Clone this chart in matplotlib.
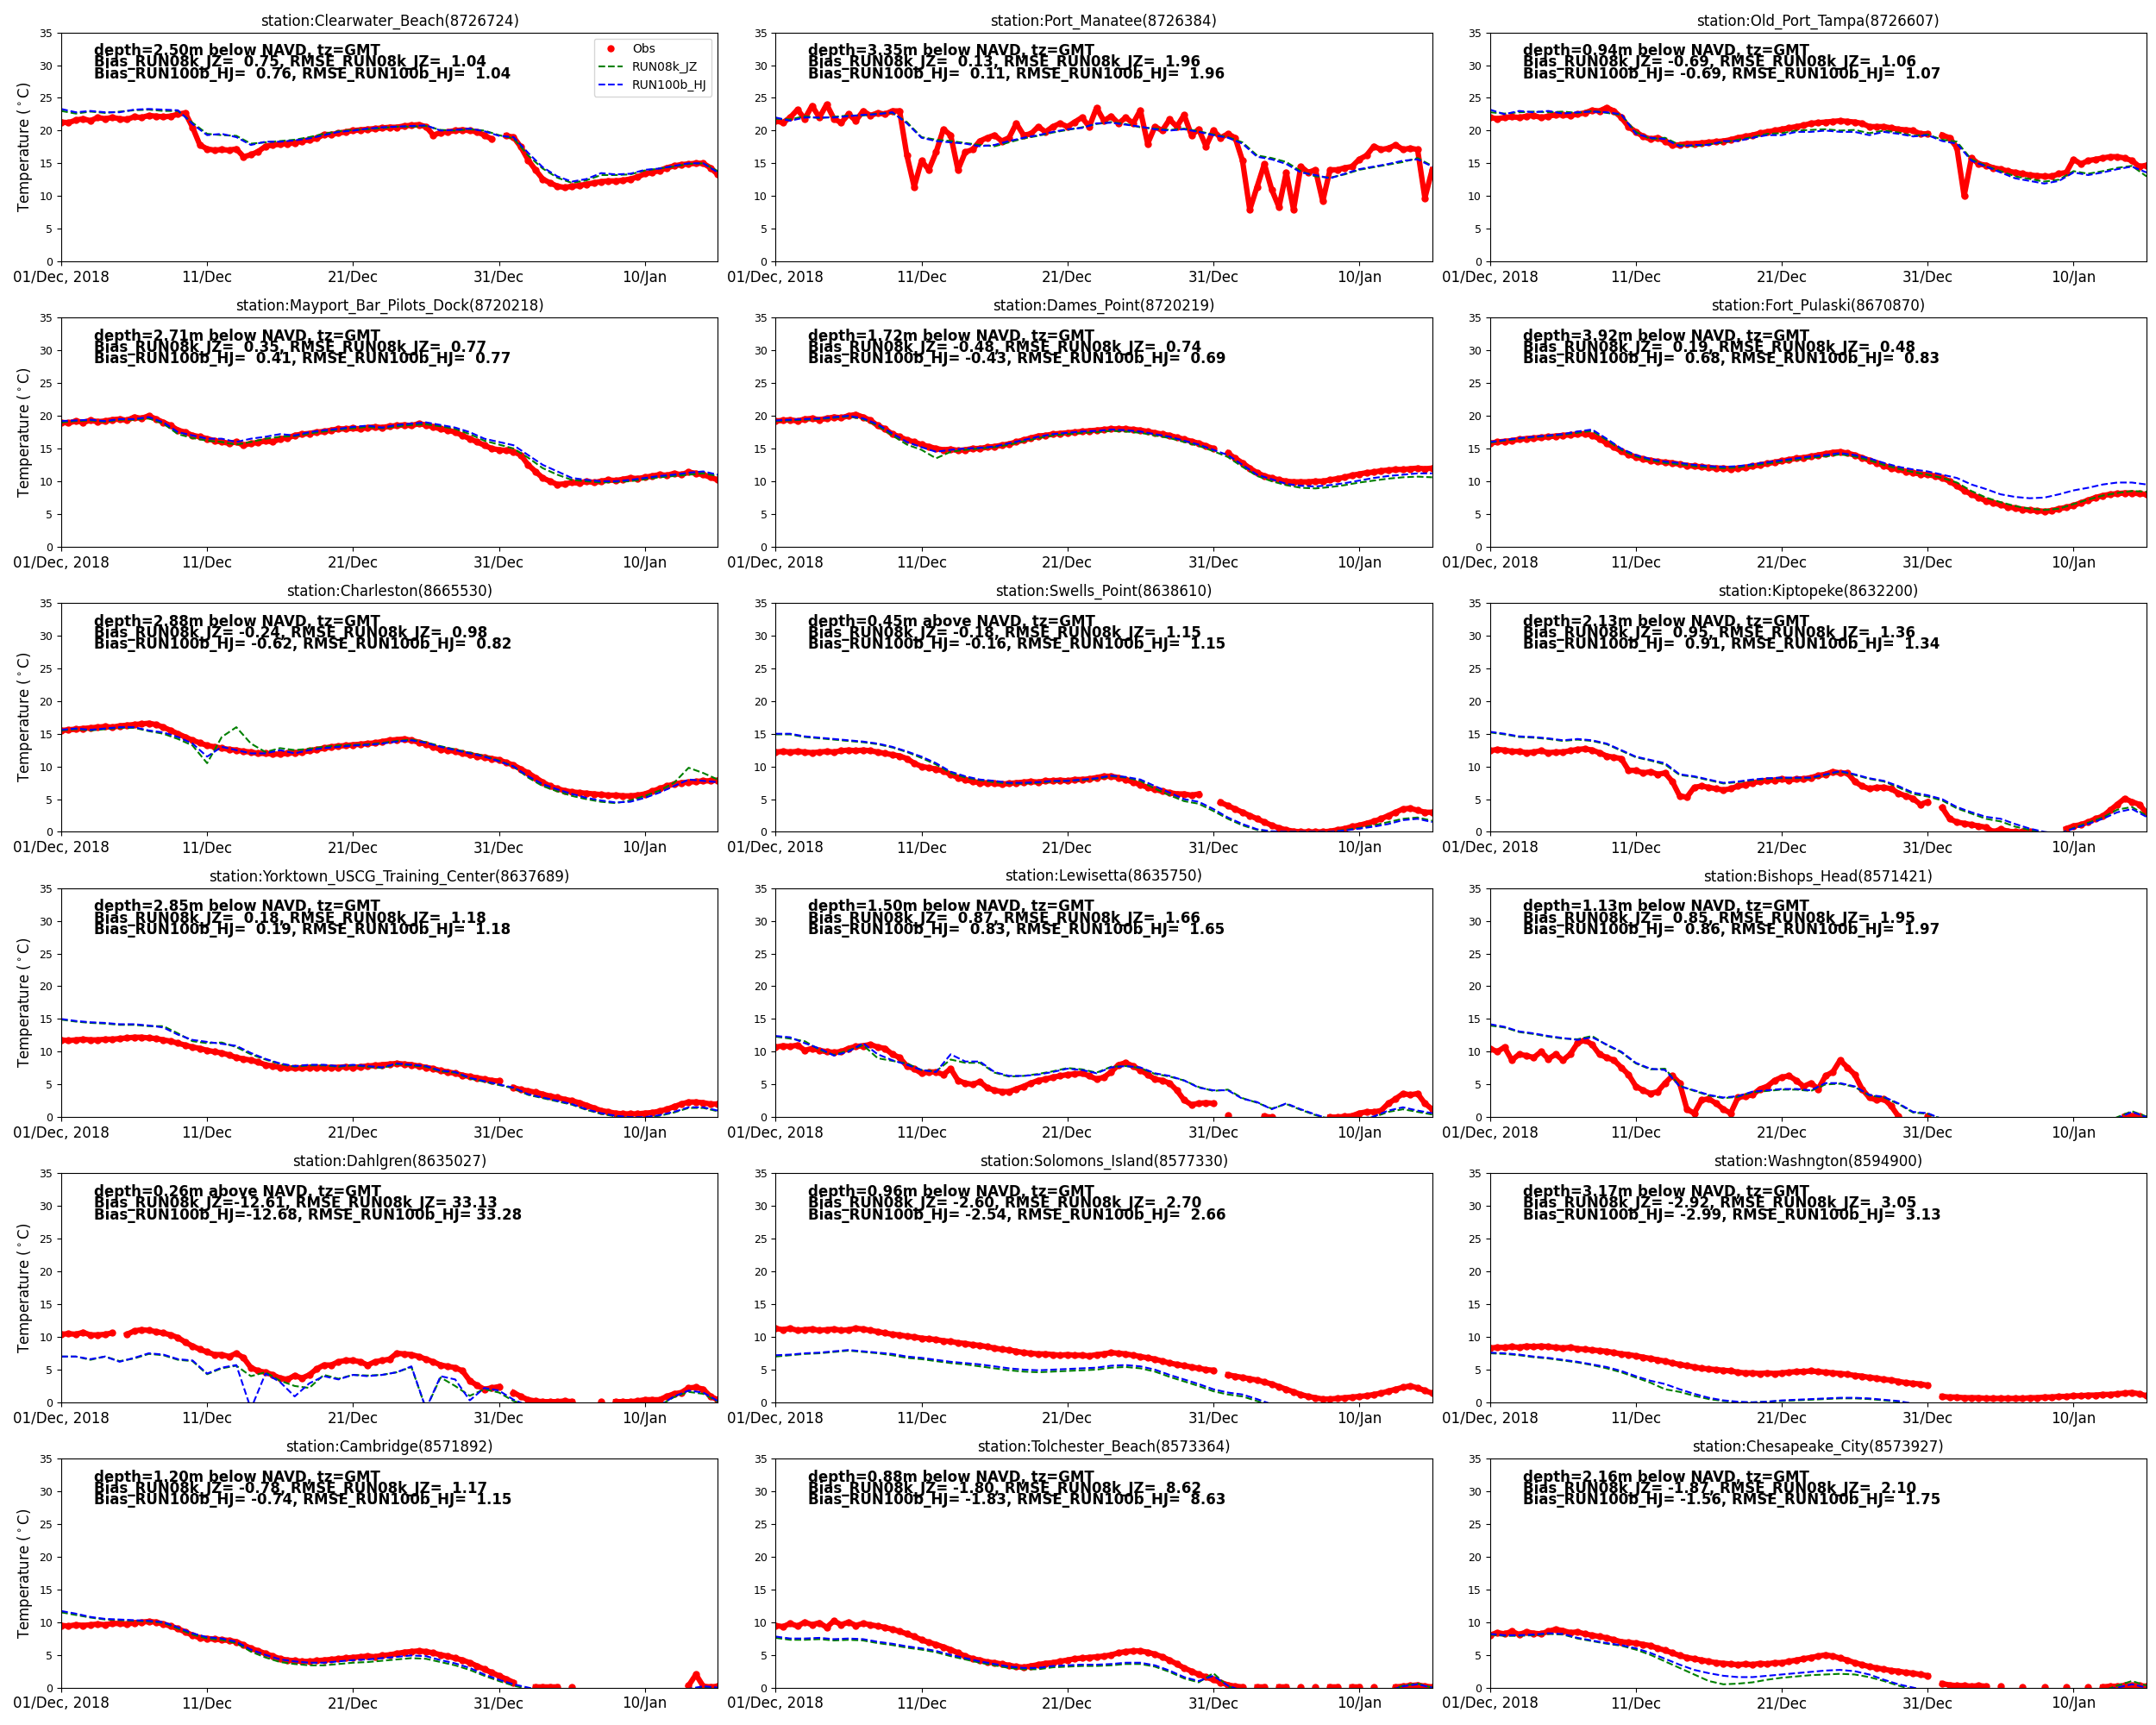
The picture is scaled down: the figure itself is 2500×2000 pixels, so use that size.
import numpy as np
import matplotlib
matplotlib.use('Agg')
import matplotlib.pyplot as plt

# ---------------- time axes ----------------
start = np.datetime64('2018-12-01T00:00')
obs_time = start + np.arange(91) * np.timedelta64(12, 'h')   # 12-hourly obs
mod_time = start + np.arange(46) * np.timedelta64(24, 'h')   # daily model
x_end = np.datetime64('2019-01-15T00:00')
tick_dates = np.array(['2018-12-01', '2018-12-11', '2018-12-21', '2018-12-31', '2019-01-10'], dtype='datetime64[m]')
tick_labels = ['01/Dec, 2018', '11/Dec', '21/Dec', '31/Dec', '10/Jan']
y_ticks = [0, 5, 10, 15, 20, 25, 30, 35]
nan = np.nan

# ---------------- station metadata ----------------
stations = ['Clearwater_Beach', 'Port_Manatee', 'Old_Port_Tampa',
            'Mayport_Bar_Pilots_Dock', 'Dames_Point', 'Fort_Pulaski',
            'Charleston', 'Swells_Point', 'Kiptopeke',
            'Yorktown_USCG_Training_Center', 'Lewisetta', 'Bishops_Head',
            'Dahlgren', 'Solomons_Island', 'Washngton',
            'Cambridge', 'Tolchester_Beach', 'Chesapeake_City']
station_ids = ['8726724', '8726384', '8726607', '8720218', '8720219', '8670870',
               '8665530', '8638610', '8632200', '8637689', '8635750', '8571421',
               '8635027', '8577330', '8594900', '8571892', '8573364', '8573927']
depths = [2.50, 3.35, 0.94, 2.71, 1.72, 3.92, 2.88, 0.45, 2.13,
          2.85, 1.50, 1.13, 0.26, 0.96, 3.17, 1.20, 0.88, 2.16]
depth_ref = ['below', 'below', 'below', 'below', 'below', 'below', 'below', 'above', 'below',
             'below', 'below', 'below', 'above', 'below', 'below', 'below', 'below', 'below']
bias_jz = [0.75, 0.13, -0.69, 0.35, -0.48, 0.19, -0.24, -0.18, 0.95,
           0.18, 0.87, 0.85, -12.61, -2.60, -2.92, -0.78, -1.80, -1.87]
rmse_jz = [1.04, 1.96, 1.06, 0.77, 0.74, 0.48, 0.98, 1.15, 1.36,
           1.18, 1.66, 1.95, 33.13, 2.70, 3.05, 1.17, 8.62, 2.10]
bias_hj = [0.76, 0.11, -0.69, 0.41, -0.43, 0.68, -0.62, -0.16, 0.91,
           0.19, 0.83, 0.86, -12.68, -2.54, -2.99, -0.74, -1.83, -1.56]
rmse_hj = [1.04, 1.96, 1.07, 0.77, 0.69, 0.83, 0.82, 1.15, 1.34,
           1.18, 1.65, 1.97, 33.28, 2.66, 3.13, 1.15, 8.63, 1.75]

# ---------------- observations (12-hourly) ----------------
obs_clearwater = [21.3, 21.2, 21.6, 21.8, 21.5, 22.0, 21.8, 22.0, 21.8, 21.7,
                  22.1, 22.0, 22.3, 22.2, 22.1, 22.2, 22.5, 22.7, 20.5, 17.8,
                  17.2, 17.0, 17.1, 17.0, 17.2, 16.0, 16.3, 16.8, 17.6, 17.8,
                  17.9, 18.0, 18.1, 18.4, 18.6, 18.8, 19.4, 19.4, 19.6, 19.8,
                  20.0, 20.1, 20.2, 20.3, 20.4, 20.5, 20.5, 20.7, 20.8, 20.9,
                  20.6, 19.3, 19.7, 19.8, 20.0, 20.1, 20.0, 19.8, 19.3, 18.7,
                  nan, 19.2, 19.0, 17.5, 15.5, 14.0, 12.6, 12.0, 11.5, 11.3,
                  11.5, 11.6, 11.8, 12.0, 12.2, 12.3, 12.3, 12.4, 12.6, 12.9,
                  13.4, 13.6, 13.9, 14.3, 14.6, 14.8, 14.9, 15.0, 15.0, 14.3,
                  13.3]
obs_port_manatee = [21.5, 21.2, 22.0, 23.2, 21.8, 23.8, 22.0, 24.0, 21.8, 21.2,
                    22.5, 21.5, 23.0, 22.3, 22.7, 22.5, 23.0, 23.0, 16.2, 11.4,
                    15.4, 14.0, 16.7, 20.2, 19.3, 14.0, 16.7, 17.1, 18.4, 18.9,
                    19.3, 18.4, 18.9, 21.1, 19.3, 19.5, 20.6, 19.8, 20.6, 21.1,
                    20.6, 21.3, 22.0, 20.6, 23.5, 21.5, 22.2, 21.1, 22.0, 21.1,
                    23.1, 18.0, 20.6, 20.0, 21.7, 20.6, 22.4, 19.3, 20.2, 17.6,
                    20.0, 18.9, 19.5, 18.9, 15.4, 7.9, 11.4, 14.9, 11.0, 8.3,
                    13.6, 7.9, 14.5, 13.6, 14.0, 9.2, 14.0, 14.0, 14.3, 14.5,
                    15.6, 16.2, 17.6, 17.1, 17.3, 17.8, 17.1, 17.3, 17.1, 9.7,
                    14.0]
obs_old_port_tampa = [22.0, 21.8, 22.0, 22.1, 22.0, 22.2, 22.3, 22.0, 22.2, 22.4,
                      22.4, 22.3, 22.5, 22.7, 23.1, 23.0, 23.5, 23.0, 22.0, 20.6,
                      19.8, 19.1, 18.7, 18.9, 18.4, 17.8, 17.8, 18.0, 18.0, 18.1,
                      18.2, 18.3, 18.4, 18.6, 18.9, 19.1, 19.3, 19.6, 19.8, 20.0,
                      20.2, 20.4, 20.6, 20.8, 21.1, 21.2, 21.3, 21.4, 21.5, 21.4,
                      21.3, 21.1, 20.6, 20.6, 20.6, 20.4, 20.2, 20.1, 20.0, 19.5,
                      19.5, nan, 19.3, 18.9, 17.4, 10.0, 15.8, 14.9, 14.7, 14.3,
                      14.1, 13.8, 13.6, 13.4, 13.2, 13.1, 13.0, 13.0, 13.4, 13.6,
                      15.6, 14.9, 15.4, 15.6, 15.8, 16.0, 16.0, 15.8, 15.4, 14.5,
                      14.7]
obs_mayport = [19.0, 18.9, 19.2, 19.0, 19.3, 19.1, 19.2, 19.4, 19.5, 19.3,
               19.8, 19.6, 20.0, 19.5, 19.0, 18.5, 17.8, 17.5, 17.0, 16.8,
               16.5, 16.2, 16.0, 15.8, 16.0, 15.5, 15.8, 15.9, 16.2, 16.0,
               16.5, 16.6, 17.0, 17.2, 17.3, 17.5, 17.6, 17.8, 18.0, 18.0,
               18.1, 18.0, 18.2, 18.3, 18.2, 18.4, 18.5, 18.6, 18.5, 18.8,
               18.6, 18.3, 18.0, 17.8, 17.5, 17.0, 16.5, 16.0, 15.5, 15.0,
               14.8, 14.7, 14.5, 14.0, 12.5, 11.5, 10.5, 10.0, 9.5, 9.6,
               9.8, 9.7, 10.0, 9.8, 10.0, 10.2, 10.1, 10.3, 10.5, 10.4,
               10.6, 10.8, 11.0, 10.9, 11.2, 11.0, 11.4, 11.2, 11.0, 10.6,
               10.2]
obs_dames = [19.2, 19.3, 19.4, 19.2, 19.5, 19.6, 19.4, 19.6, 19.8, 19.7,
             20.0, 20.2, 19.8, 19.3, 18.5, 18.0, 17.2, 16.8, 16.3, 16.0,
             15.6, 15.3, 15.0, 14.8, 14.9, 14.7, 14.8, 15.0, 15.0, 15.2,
             15.3, 15.5, 15.7, 16.0, 16.3, 16.6, 16.9, 17.0, 17.2, 17.3,
             17.4, 17.5, 17.6, 17.7, 17.8, 17.9, 18.0, 18.0, 18.0, 17.9,
             17.8, 17.6, 17.4, 17.2, 17.0, 16.7, 16.4, 16.1, 15.8, 15.4,
             15.0, nan, 14.3, 13.5, 12.8, 12.0, 11.3, 10.8, 10.5, 10.2,
             10.0, 9.9, 9.9, 9.9, 10.0, 10.0, 10.2, 10.4, 10.6, 10.9,
             11.1, 11.3, 11.4, 11.6, 11.7, 11.8, 11.8, 11.9, 12.0, 11.9,
             12.0]
obs_fort_pulaski = [15.8, 16.0, 16.1, 16.2, 16.4, 16.5, 16.6, 16.7, 16.8, 16.9,
                    17.0, 17.1, 17.2, 17.3, 17.0, 16.5, 15.8, 15.2, 14.6, 14.1,
                    13.7, 13.4, 13.2, 13.0, 12.9, 12.8, 12.6, 12.4, 12.3, 12.2,
                    12.1, 12.0, 12.0, 11.9, 12.0, 12.1, 12.3, 12.5, 12.7, 12.9,
                    13.1, 13.3, 13.5, 13.6, 13.8, 14.0, 14.2, 14.4, 14.5, 14.3,
                    14.0, 13.6, 13.2, 12.8, 12.4, 12.0, 11.8, 11.5, 11.3, 11.1,
                    11.0, 10.8, 10.5, 10.0, 9.3, 8.6, 8.0, 7.5, 7.0, 6.7,
                    6.4, 6.1, 5.9, 5.7, 5.6, 5.5, 5.4, 5.5, 5.8, 6.0,
                    6.3, 6.7, 7.1, 7.5, 7.8, 8.0, 8.1, 8.2, 8.2, 8.1,
                    8.0]
obs_charleston = [15.5, 15.6, 15.7, 15.8, 15.9, 16.0, 16.1, 16.0, 16.2, 16.3,
                  16.4, 16.5, 16.6, 16.4, 16.0, 15.5, 15.0, 14.5, 14.0, 13.6,
                  13.2, 13.0, 12.8, 12.6, 12.5, 12.3, 12.2, 12.0, 12.0, 11.9,
                  11.9, 12.0, 12.1, 12.2, 12.4, 12.6, 12.8, 13.0, 13.1, 13.2,
                  13.3, 13.4, 13.5, 13.6, 13.8, 14.0, 14.1, 14.2, 14.0, 13.7,
                  13.4, 13.0, 12.6, 12.5, 12.3, 12.0, 11.8, 11.6, 11.4, 11.2,
                  11.0, 10.6, 10.2, 9.6, 9.0, 8.3, 7.6, 7.0, 6.6, 6.3,
                  6.1, 6.0, 5.9, 5.8, 5.7, 5.6, 5.6, 5.5, 5.5, 5.6,
                  5.8, 6.2, 6.6, 7.0, 7.3, 7.5, 7.6, 7.7, 7.8, 7.8,
                  7.9]
obs_swells = [12.2, 12.3, 12.2, 12.3, 12.2, 12.1, 12.2, 12.3, 12.2, 12.4,
              12.5, 12.4, 12.5, 12.4, 12.2, 12.0, 11.8, 11.6, 11.2, 10.5,
              10.0, 9.8, 9.6, 9.3, 8.8, 8.3, 8.0, 7.7, 7.5, 7.5,
              7.4, 7.3, 7.4, 7.5, 7.6, 7.7, 7.6, 7.8, 7.8, 7.9,
              7.8, 8.0, 8.0, 8.1, 8.3, 8.5, 8.5, 8.3, 8.0, 7.6,
              7.2, 6.8, 6.5, 6.2, 6.0, 5.8, 5.8, 5.6, 5.8, nan,
              nan, 4.5, 4.0, 3.5, 3.0, 2.5, 2.0, 1.5, 1.0, 0.6,
              0.3, 0.1, 0.0, 0.0, 0.0, 0.0, 0.1, 0.3, 0.5, 0.8,
              1.0, 1.3, 1.6, 2.0, 2.5, 3.0, 3.5, 3.6, 3.3, 3.0,
              3.0]
obs_kiptopeke = [12.4, 12.6, 12.5, 12.3, 12.3, 12.1, 12.2, 12.4, 12.1, 12.2,
                 12.2, 12.4, 12.6, 12.7, 12.5, 12.1, 11.6, 11.4, 11.2, 9.4,
                 9.4, 9.0, 9.2, 8.8, 9.0, 7.7, 5.5, 5.3, 6.8, 7.0,
                 6.8, 6.6, 6.4, 6.6, 7.0, 7.2, 7.5, 7.7, 7.9, 7.9,
                 8.1, 7.9, 8.1, 8.1, 8.3, 8.6, 8.8, 9.2, 9.0, 9.0,
                 7.7, 7.0, 6.6, 6.8, 6.8, 6.6, 5.9, 5.5, 5.1, 4.2,
                 4.6, nan, 3.7, 2.0, 1.5, 1.3, 1.1, 0.9, 0.7, 0.0,
                 0.4, 0.1, 0.0, 0.0, 0.0, nan, nan, nan, nan, 0.5,
                 0.9, 1.1, 1.5, 2.0, 2.4, 3.3, 4.2, 5.1, 4.6, 4.2,
                 2.9]
obs_yorktown = [11.8, 11.7, 11.8, 11.9, 11.8, 11.8, 11.9, 11.9, 12.0, 12.1,
                12.2, 12.2, 12.1, 12.0, 11.8, 11.6, 11.3, 11.0, 10.7, 10.5,
                10.2, 10.0, 9.8, 9.5, 9.1, 8.9, 8.7, 8.4, 8.0, 7.8,
                7.6, 7.5, 7.5, 7.5, 7.6, 7.6, 7.6, 7.6, 7.6, 7.7,
                7.6, 7.7, 7.8, 7.9, 8.0, 8.1, 8.2, 8.1, 8.0, 7.8,
                7.6, 7.4, 7.1, 6.9, 6.7, 6.4, 6.2, 6.0, 5.8, 5.6,
                5.5, nan, 4.5, 4.2, 4.0, 3.8, 3.5, 3.2, 3.0, 2.7,
                2.5, 2.2, 1.8, 1.4, 1.0, 0.8, 0.6, 0.5, 0.5, 0.5,
                0.6, 0.7, 0.9, 1.2, 1.6, 2.0, 2.3, 2.3, 2.2, 2.0,
                2.0]
obs_lewisetta = [10.7, 10.9, 10.8, 11.0, 10.2, 10.5, 10.2, 10.0, 9.9, 10.0,
                 10.5, 10.8, 10.9, 11.1, 10.7, 10.5, 9.6, 9.1, 7.8, 7.4,
                 6.7, 6.9, 6.9, 6.5, 7.4, 5.6, 5.2, 5.0, 5.4, 4.5,
                 4.1, 3.9, 3.9, 4.3, 4.7, 5.2, 5.6, 5.8, 6.1, 6.3,
                 6.5, 6.6, 6.7, 6.3, 5.8, 6.1, 6.9, 8.0, 8.3, 7.8,
                 7.2, 6.5, 5.8, 5.6, 5.2, 4.1, 2.6, 1.9, 2.1, 2.2,
                 2.1, nan, 0.3, nan, nan, nan, nan, 0.1, 0.0, nan,
                 nan, nan, nan, nan, nan, nan, 0.0, 0.0, 0.1, 0.2,
                 0.6, 0.8, 0.8, 1.0, 2.1, 2.8, 3.6, 3.4, 3.6, 2.1,
                 1.2]
obs_bishops = [10.5, 10.0, 10.7, 8.7, 9.6, 9.4, 9.1, 10.0, 8.9, 9.6,
               8.7, 9.6, 11.3, 11.8, 11.1, 9.6, 9.1, 8.7, 7.6, 6.5,
               4.7, 4.1, 3.6, 3.9, 5.2, 6.3, 5.2, 1.2, 0.6, 2.6,
               2.8, 2.1, 1.2, 0.6, 3.0, 3.2, 3.4, 4.3, 4.7, 5.6,
               6.1, 6.3, 5.6, 4.7, 5.2, 4.3, 6.3, 6.9, 8.7, 7.6,
               6.5, 4.3, 3.0, 2.6, 2.8, 1.7, 0.1, nan, nan, nan,
               0.1, nan, nan, nan, nan, nan, nan, nan, nan, nan,
               nan, nan, nan, nan, nan, nan, nan, nan, nan, nan,
               nan, nan, nan, nan, nan, nan, nan, 0.1, 0.2, 0.1,
               nan]
obs_dahlgren = [10.4, 10.5, 10.4, 10.7, 10.3, 10.3, 10.4, 10.6, nan, 10.4,
                10.9, 11.1, 11.0, 10.8, 10.6, 10.3, 9.9, 9.2, 8.6, 8.1,
                7.7, 7.3, 7.3, 7.0, 7.5, 6.8, 5.3, 4.8, 4.6, 4.2,
                3.7, 3.5, 4.1, 3.7, 4.2, 5.1, 5.7, 5.7, 6.2, 6.4,
                6.4, 6.2, 5.7, 6.2, 6.4, 6.6, 7.5, 7.4, 7.3, 7.0,
                6.6, 6.2, 5.7, 5.5, 5.3, 4.8, 3.3, 2.6, 2.0, 2.2,
                2.4, nan, 1.5, 0.9, 0.4, 0.2, 0.1, 0.1, 0.1, 0.2,
                0.1, nan, nan, nan, 0.1, nan, 0.1, 0.1, 0.1, 0.2,
                0.4, 0.4, 0.4, 0.9, 1.3, 1.5, 2.2, 2.3, 2.0, 0.9,
                0.4]
obs_solomons = [11.3, 11.1, 11.3, 11.0, 11.1, 11.2, 11.0, 11.1, 11.2, 11.0,
                11.1, 11.3, 11.2, 11.0, 10.8, 10.6, 10.4, 10.3, 10.1, 10.0,
                9.8, 9.7, 9.6, 9.4, 9.3, 9.1, 9.0, 8.8, 8.7, 8.5,
                8.3, 8.1, 8.0, 7.8, 7.6, 7.5, 7.4, 7.4, 7.3, 7.2,
                7.3, 7.2, 7.2, 7.1, 7.3, 7.4, 7.6, 7.5, 7.4, 7.2,
                7.0, 6.8, 6.6, 6.3, 6.0, 5.8, 5.6, 5.4, 5.2, 5.0,
                4.9, nan, 4.2, 4.0, 3.8, 3.6, 3.4, 3.1, 2.8, 2.4,
                2.0, 1.6, 1.2, 0.9, 0.7, 0.5, 0.5, 0.6, 0.7, 0.8,
                0.9, 1.0, 1.2, 1.4, 1.7, 2.0, 2.3, 2.5, 2.2, 1.8,
                1.4]
obs_washington = [8.3, 8.4, 8.4, 8.5, 8.4, 8.6, 8.5, 8.6, 8.5, 8.4,
                  8.3, 8.4, 8.2, 8.1, 8.0, 7.9, 7.8, 7.6, 7.4, 7.3,
                  7.1, 6.9, 6.7, 6.5, 6.3, 6.0, 5.8, 5.6, 5.4, 5.2,
                  5.1, 5.0, 4.9, 4.8, 4.6, 4.5, 4.5, 4.4, 4.5, 4.4,
                  4.5, 4.6, 4.7, 4.7, 4.8, 4.7, 4.6, 4.5, 4.4, 4.3,
                  4.1, 4.0, 3.8, 3.7, 3.5, 3.4, 3.2, 3.0, 2.9, 2.8,
                  2.6, nan, 0.9, 0.8, 0.8, 0.7, 0.7, 0.7, 0.6, 0.6,
                  0.6, 0.6, 0.6, 0.6, 0.7, 0.7, 0.8, 0.8, 0.9, 0.9,
                  1.0, 1.0, 1.1, 1.1, 1.2, 1.2, 1.3, 1.4, 1.5, 1.3,
                  1.0]
obs_cambridge = [9.5, 9.4, 9.6, 9.5, 9.6, 9.7, 9.6, 9.8, 9.8, 9.7,
                 9.9, 10.0, 10.1, 10.0, 9.7, 9.4, 9.0, 8.5, 8.0, 7.6,
                 7.5, 7.4, 7.3, 7.2, 7.0, 6.5, 6.0, 5.6, 5.2, 4.8,
                 4.4, 4.2, 4.1, 4.0, 4.0, 4.1, 4.2, 4.3, 4.4, 4.5,
                 4.6, 4.7, 4.8, 4.7, 4.9, 5.0, 5.2, 5.4, 5.5, 5.6,
                 5.5, 5.3, 5.0, 4.8, 4.5, 4.2, 3.8, 3.3, 2.8, 2.3,
                 1.8, 1.3, 0.8, nan, nan, 0.1, 0.1, 0.1, 0.1, nan,
                 0.1, nan, nan, nan, nan, nan, nan, nan, nan, nan,
                 nan, nan, nan, nan, nan, nan, 0.3, 2.0, 0.2, 0.1,
                 0.2]
obs_tolchester = [9.5, 9.3, 9.8, 9.4, 10.0, 9.6, 9.9, 9.2, 10.2, 9.6,
                  10.0, 9.5, 9.8, 9.6, 9.4, 9.2, 8.9, 8.6, 8.2, 7.8,
                  7.3, 6.9, 6.6, 6.2, 5.8, 5.3, 4.8, 4.4, 4.2, 3.9,
                  3.8, 3.6, 3.4, 3.2, 3.1, 3.3, 3.5, 3.7, 3.8, 4.0,
                  4.2, 4.4, 4.5, 4.6, 4.7, 4.8, 5.0, 5.3, 5.5, 5.6,
                  5.6, 5.4, 5.1, 4.7, 4.2, 3.6, 3.0, 2.5, 2.0, 1.6,
                  1.2, 0.8, 0.4, 0.2, 0.1, nan, 0.1, 0.1, nan, 0.1,
                  0.1, nan, 0.1, nan, 0.1, nan, 0.1, 0.1, nan, 0.1,
                  0.1, nan, 0.1, nan, nan, 0.1, 0.2, 0.3, 0.4, 0.2,
                  0.1]
obs_chesapeake = [8.0, 8.4, 8.2, 8.6, 8.1, 8.5, 8.3, 8.2, 8.6, 8.9,
                  8.7, 8.4, 8.5, 8.2, 8.0, 7.8, 7.6, 7.3, 7.0, 6.9,
                  6.8, 6.6, 6.4, 6.0, 5.7, 5.3, 4.9, 4.6, 4.4, 4.2,
                  4.0, 3.8, 3.7, 3.6, 3.5, 3.6, 3.5, 3.7, 3.6, 3.8,
                  3.8, 4.0, 4.2, 4.4, 4.6, 4.8, 5.0, 4.8, 4.5, 4.2,
                  3.8, 3.5, 3.2, 3.0, 2.8, 2.6, 2.5, 2.3, 2.2, 2.0,
                  1.8, nan, 0.6, 0.4, 0.3, 0.3, 0.2, 0.3, 0.2, nan,
                  0.2, nan, nan, 0.1, nan, nan, 0.1, nan, nan, 0.1,
                  nan, nan, 0.1, nan, 0.1, 0.2, 0.2, 0.3, 0.3, 0.3,
                  0.2]

# ---------------- model RUN08k_JZ (daily) ----------------
jz_clearwater = [23.0, 22.6, 22.9, 22.7, 22.9, 23.1, 23.2, 23.0, 23.0, 21.2,
                 19.5, 19.3, 19.2, 18.0, 18.2, 18.4, 18.6, 19.0, 19.5, 19.9,
                 20.1, 20.2, 20.4, 20.6, 20.6, 20.7, 20.1, 20.0, 20.2, 20.0,
                 19.3, 18.8, 16.2, 14.2, 12.8, 12.0, 12.4, 13.2, 13.2, 13.3,
                 13.9, 14.2, 14.5, 14.9, 15.0, 13.8]
jz_port_manatee = [21.8, 21.7, 22.2, 21.9, 22.1, 22.3, 22.3, 22.6, 22.7, 21.3,
                   19.0, 18.6, 18.4, 18.1, 17.8, 17.6, 18.2, 18.8, 19.2, 19.7,
                   20.1, 20.5, 21.0, 21.3, 21.0, 20.5, 20.3, 20.1, 20.3, 19.9,
                   19.4, 19.0, 18.2, 16.2, 15.8, 15.2, 13.8, 13.0, 12.8, 13.3,
                   14.0, 14.4, 14.8, 15.2, 15.8, 14.6]
jz_old_port_tampa = [22.8, 22.6, 22.8, 22.9, 22.8, 22.9, 22.7, 23.0, 22.7, 22.4,
                     19.8, 18.7, 18.9, 17.8, 17.6, 17.9, 18.2, 18.6, 19.0, 19.5,
                     19.6, 20.0, 20.1, 20.2, 20.0, 20.1, 19.6, 20.0, 19.7, 19.2,
                     19.4, 18.6, 18.3, 15.6, 14.6, 13.8, 13.0, 12.6, 12.2, 12.5,
                     13.8, 13.4, 13.8, 14.3, 14.6, 13.0]
jz_mayport = [19.0, 19.2, 19.3, 19.1, 19.4, 19.4, 19.6, 18.8, 17.2, 16.6,
              16.2, 16.0, 15.6, 16.0, 16.5, 16.8, 16.9, 17.3, 17.6, 17.9,
              18.1, 18.3, 18.1, 18.4, 18.6, 18.7, 18.4, 18.0, 17.2, 16.2,
              15.6, 15.0, 13.6, 12.0, 11.0, 10.2, 10.0, 9.8, 9.9, 10.0,
              10.3, 10.6, 10.8, 11.0, 11.2, 10.8]
jz_dames = [19.2, 19.3, 19.4, 19.5, 19.7, 19.9, 19.5, 18.5, 17.0, 15.6,
            14.8, 13.5, 14.5, 14.8, 15.0, 15.2, 15.6, 16.1, 16.6, 17.0,
            17.2, 17.4, 17.5, 17.7, 17.6, 17.4, 17.0, 16.6, 16.0, 15.4,
            14.6, 13.7, 12.2, 10.8, 10.0, 9.4, 9.0, 8.9, 9.1, 9.4,
            9.8, 10.1, 10.4, 10.6, 10.7, 10.6]
jz_fort_pulaski = [15.9, 16.2, 16.5, 16.7, 16.9, 17.1, 17.4, 17.7, 16.3, 14.8,
                   13.8, 13.2, 12.8, 12.6, 12.3, 12.1, 12.0, 12.1, 12.4, 12.7,
                   13.0, 13.3, 13.6, 13.8, 14.1, 13.8, 13.2, 12.5, 11.9, 11.4,
                   11.0, 10.5, 9.8, 8.5, 7.5, 6.8, 6.2, 5.8, 5.6, 5.8,
                   6.5, 7.2, 7.8, 8.2, 8.5, 8.4]
jz_charleston = [15.5, 15.7, 15.5, 15.7, 15.9, 15.9, 15.4, 15.0, 14.2, 13.2,
                 10.5, 14.5, 16.0, 13.5, 12.2, 12.8, 12.5, 12.7, 13.0, 13.2,
                 13.3, 13.4, 13.6, 13.9, 14.1, 13.7, 13.1, 12.6, 12.1, 11.6,
                 10.9, 10.0, 8.3, 7.0, 6.2, 5.5, 5.0, 4.6, 4.4, 4.8,
                 5.5, 6.3, 7.5, 9.8, 9.0, 8.0]
jz_swells = [14.9, 14.9, 14.5, 14.3, 14.1, 13.9, 13.7, 13.4, 12.9, 12.2,
             11.3, 10.3, 9.0, 8.3, 7.9, 7.6, 7.4, 7.4, 7.5, 7.7,
             7.8, 7.9, 8.1, 8.5, 8.3, 7.8, 6.6, 5.6, 4.7, 4.3,
             3.2, 2.0, 1.0, 0.3, 0.0, 0.0, 0.0, 0.0, 0.0, 0.3,
             0.6, 1.0, 1.5, 2.0, 2.2, 1.7]
jz_kiptopeke = [15.2, 14.9, 14.5, 14.4, 14.2, 13.9, 14.1, 13.9, 13.4, 12.4,
                11.4, 10.9, 10.3, 8.7, 8.4, 7.9, 7.4, 7.6, 7.9, 8.1,
                8.2, 8.2, 8.2, 8.7, 9.2, 8.7, 8.1, 7.7, 6.8, 5.8,
                5.4, 4.8, 3.6, 2.8, 2.0, 1.6, 0.8, 0.3, -0.2, -0.3,
                0.6, 1.4, 2.2, 3.4, 3.8, 2.5]
jz_yorktown = [14.9, 14.6, 14.4, 14.3, 14.1, 14.1, 13.9, 13.9, 12.8, 11.6,
               11.3, 11.4, 10.7, 9.6, 8.8, 8.1, 7.7, 7.9, 7.9, 7.7,
               7.9, 7.7, 7.5, 8.1, 7.9, 7.7, 7.0, 6.8, 5.9, 5.4,
               4.9, 4.4, 3.4, 2.9, 2.4, 1.9, 1.1, 0.5, 0.1, -0.1,
               -0.1, 0.2, 0.7, 1.4, 1.4, 0.9]
jz_lewisetta = [12.3, 12.0, 11.6, 10.3, 9.5, 10.2, 11.0, 9.0, 8.6, 8.2,
                7.2, 7.0, 8.8, 8.3, 8.3, 6.8, 6.2, 6.3, 6.6, 7.0,
                7.5, 7.3, 6.8, 7.7, 7.8, 7.5, 6.6, 6.2, 5.6, 4.6,
                4.0, 4.2, 2.9, 2.2, 1.3, 2.0, 1.1, 0.3, -0.3, -0.3,
                -0.3, 0.0, 0.8, 1.2, 0.8, 0.4]
jz_bishops = [14.0, 13.7, 13.0, 12.7, 12.3, 12.0, 11.9, 12.4, 11.0, 9.9,
              8.2, 7.3, 7.4, 4.8, 4.0, 3.3, 2.9, 3.1, 3.8, 4.0,
              4.2, 4.2, 4.0, 5.0, 5.1, 4.6, 3.3, 3.0, 2.0, 0.7,
              0.5, -0.3, -1.0, -1.0, -1.0, -1.0, -1.0, -1.0, -1.0, -1.0,
              -1.0, -1.0, -1.0, 0.0, 0.9, 0.1]
jz_dahlgren = [7.0, 7.0, 6.5, 7.0, 6.3, 6.7, 7.4, 7.2, 6.5, 6.3,
               4.3, 5.2, 5.6, 4.0, 4.6, 3.3, 2.5, 2.2, 4.2, 3.6,
               4.2, 4.1, 4.2, 4.6, 5.4, -1.0, 3.8, 2.5, 1.0, 2.0,
               1.5, 0.2, -0.5, -0.5, -0.5, -0.5, -0.5, -0.5, -0.5, -0.5,
               -0.5, -0.5, 0.8, 1.6, 1.3, 0.1]
jz_solomons = [7.0, 7.2, 7.4, 7.5, 7.7, 7.9, 7.7, 7.5, 7.2, 6.8,
               6.6, 6.3, 6.0, 5.8, 5.5, 5.2, 4.9, 4.7, 4.6, 4.7,
               4.8, 4.9, 5.0, 5.3, 5.4, 5.2, 4.7, 3.9, 3.2, 2.5,
               1.7, 1.2, 0.9, 0.2, -0.5, -0.5, -0.5, -0.5, -0.5, -0.5,
               -0.5, -0.5, -0.5, -0.5, -0.5, -0.5]
jz_washington = [7.5, 7.4, 7.2, 6.9, 6.7, 6.4, 6.1, 5.7, 5.2, 4.6,
                 3.8, 3.0, 2.0, 1.6, 1.0, 0.5, 0.2, 0.0, 0.0, 0.1,
                 0.2, 0.3, 0.4, 0.5, 0.6, 0.6, 0.5, 0.3, 0.1, -0.3,
                 -0.5, -0.5, -0.5, -0.5, -0.5, -0.5, -0.5, -0.5, -0.5, -0.5,
                 -0.5, -0.5, -0.5, -0.5, -0.5, -0.5]
jz_cambridge = [11.5, 11.1, 10.7, 10.4, 10.3, 10.2, 10.1, 9.9, 9.0, 8.1,
                7.5, 7.3, 6.8, 5.5, 4.6, 3.9, 3.6, 3.4, 3.4, 3.6,
                3.8, 3.9, 4.1, 4.3, 4.5, 4.4, 3.9, 3.4, 2.7, 1.8,
                1.0, 0.3, -0.2, -0.5, -0.5, -0.5, -0.5, -0.5, -0.5, -0.5,
                -0.5, -0.5, -0.5, -0.3, 0.1, -0.1]
jz_tolchester = [7.6, 7.3, 7.3, 7.4, 7.2, 7.3, 7.2, 6.8, 6.5, 6.1,
                 5.8, 5.4, 4.8, 4.3, 3.8, 3.4, 3.0, 2.8, 2.8, 3.1,
                 3.2, 3.3, 3.3, 3.4, 3.6, 3.6, 3.2, 2.4, 1.4, 0.8,
                 2.2, 0.2, -0.5, -0.5, -0.5, -0.5, -0.5, -0.5, -0.5, -0.5,
                 -0.5, -0.5, -0.5, 0.3, 0.6, 0.0]
jz_chesapeake = [8.1, 7.9, 7.9, 8.0, 8.2, 8.1, 7.5, 7.1, 6.7, 6.4,
                 5.8, 5.0, 4.0, 3.0, 2.0, 1.0, 0.5, 0.6, 0.8, 1.2,
                 1.5, 1.7, 1.9, 2.0, 2.1, 2.0, 1.6, 1.0, 0.3, -0.3,
                 -0.5, -0.5, -0.5, -0.5, -0.5, -0.5, -0.5, -0.5, -0.5, -0.5,
                 -0.5, -0.5, -0.5, 0.3, 1.0, 0.3]

# ---------------- model RUN100b_HJ (daily) ----------------
hj_clearwater = [23.3, 22.8, 23.0, 22.8, 22.8, 23.2, 23.3, 23.2, 23.1, 21.0,
                 19.3, 19.5, 19.0, 17.8, 18.3, 18.3, 18.5, 18.8, 19.3, 19.8,
                 20.0, 20.3, 20.5, 20.6, 20.7, 20.8, 20.0, 20.1, 20.3, 19.9,
                 19.2, 19.0, 16.6, 14.4, 13.0, 12.2, 12.6, 13.5, 13.3, 13.4,
                 14.0, 14.2, 14.6, 15.0, 15.0, 13.6]
hj_port_manatee = [22.0, 21.5, 22.0, 22.0, 22.0, 22.2, 22.4, 22.5, 22.8, 21.1,
                   18.9, 18.4, 18.2, 18.0, 17.6, 17.8, 18.4, 18.9, 19.3, 19.8,
                   20.2, 20.4, 21.1, 21.2, 20.9, 20.6, 20.2, 20.0, 20.2, 19.8,
                   19.3, 18.9, 18.0, 16.0, 15.6, 14.9, 13.6, 13.2, 12.7, 13.4,
                   14.1, 14.5, 14.9, 15.4, 15.6, 14.5]
hj_old_port_tampa = [23.2, 22.5, 23.0, 22.8, 23.0, 22.6, 22.8, 22.9, 22.8, 22.5,
                     19.5, 18.9, 18.7, 17.6, 17.8, 17.8, 18.4, 18.4, 18.9, 19.3,
                     19.3, 19.8, 19.8, 20.0, 19.8, 19.8, 19.3, 19.8, 19.5, 19.1,
                     19.3, 18.4, 18.0, 15.4, 14.5, 13.6, 12.7, 12.3, 11.9, 12.3,
                     13.6, 13.2, 13.6, 14.1, 14.5, 13.6]
hj_mayport = [19.2, 19.3, 19.4, 19.2, 19.5, 19.5, 19.8, 19.0, 17.5, 17.0,
              16.5, 16.5, 16.0, 16.5, 16.8, 17.2, 17.0, 17.5, 17.8, 18.0,
              18.3, 18.5, 18.2, 18.6, 18.8, 19.0, 18.6, 18.2, 17.5, 16.5,
              16.0, 15.5, 14.0, 12.5, 11.5, 10.5, 10.2, 10.0, 10.0, 10.2,
              10.5, 10.8, 11.0, 11.3, 11.5, 11.0]
hj_dames = [19.3, 19.4, 19.5, 19.6, 19.8, 20.0, 19.6, 18.7, 17.3, 16.0,
            15.2, 14.5, 14.8, 15.0, 15.1, 15.3, 15.8, 16.3, 16.8, 17.2,
            17.4, 17.6, 17.7, 17.9, 17.8, 17.6, 17.2, 16.8, 16.2, 15.6,
            14.8, 14.0, 12.5, 11.0, 10.3, 9.6, 9.3, 9.2, 9.4, 9.7,
            10.1, 10.5, 10.8, 11.0, 11.2, 11.2]
hj_fort_pulaski = [16.0, 16.3, 16.6, 16.8, 17.0, 17.2, 17.6, 17.9, 16.5, 15.0,
                   14.0, 13.4, 13.0, 12.8, 12.5, 12.3, 12.2, 12.3, 12.6, 12.9,
                   13.2, 13.5, 13.8, 14.0, 14.3, 14.0, 13.5, 12.8, 12.2, 11.8,
                   11.5, 11.0, 10.5, 9.5, 8.8, 8.0, 7.6, 7.4, 7.5, 8.0,
                   8.6, 9.0, 9.5, 9.8, 9.8, 9.5]
hj_charleston = [15.6, 15.8, 15.6, 15.8, 16.0, 16.0, 15.5, 15.2, 14.5, 13.5,
                 11.5, 13.0, 12.5, 12.0, 12.0, 12.5, 12.0, 12.5, 12.8, 13.0,
                 13.2, 13.3, 13.5, 13.8, 14.0, 13.6, 13.0, 12.5, 12.0, 11.5,
                 10.8, 10.0, 8.5, 7.3, 6.5, 5.8, 5.2, 4.8, 4.5, 4.6,
                 5.2, 6.0, 7.0, 8.0, 7.8, 7.6]
hj_swells = [15.0, 15.0, 14.6, 14.4, 14.2, 14.0, 13.8, 13.5, 13.0, 12.3,
             11.5, 10.5, 9.2, 8.5, 8.0, 7.8, 7.5, 7.5, 7.6, 7.8,
             7.8, 8.0, 8.2, 8.6, 8.4, 8.0, 7.0, 6.0, 5.0, 4.6,
             3.5, 2.2, 1.2, 0.4, 0.1, 0.0, 0.0, 0.0, 0.0, 0.2,
             0.5, 0.8, 1.2, 1.8, 2.0, 1.5]
hj_kiptopeke = [15.3, 15.0, 14.6, 14.5, 14.3, 14.0, 14.2, 14.0, 13.5, 12.5,
                11.5, 11.0, 10.5, 8.8, 8.5, 8.0, 7.5, 7.7, 8.0, 8.2,
                8.3, 8.3, 8.3, 8.8, 9.3, 8.8, 8.2, 7.8, 7.0, 6.0,
                5.6, 5.0, 3.8, 3.0, 2.3, 2.0, 1.2, 0.5, 0.0, -0.3,
                0.5, 1.2, 2.0, 3.0, 3.5, 2.3]
hj_yorktown = [15.0, 14.7, 14.5, 14.4, 14.2, 14.2, 14.0, 13.7, 12.6, 11.8,
               11.5, 11.2, 10.9, 9.8, 8.9, 8.2, 7.8, 8.0, 8.0, 7.8,
               8.0, 7.8, 7.6, 8.2, 8.0, 7.8, 7.1, 6.9, 6.0, 5.5,
               5.0, 4.5, 3.5, 3.0, 2.5, 2.0, 1.2, 0.6, 0.2, 0.0,
               0.0, 0.3, 0.8, 1.5, 1.5, 1.0]
hj_lewisetta = [12.4, 12.2, 11.3, 10.5, 9.4, 10.0, 11.3, 9.6, 8.7, 8.0,
                7.2, 6.9, 9.6, 8.5, 8.5, 6.9, 6.3, 6.3, 6.5, 6.9,
                7.4, 7.2, 6.7, 7.6, 7.8, 7.6, 6.7, 6.3, 5.6, 4.5,
                4.1, 4.1, 2.8, 2.3, 1.2, 2.1, 1.2, 0.4, -0.3, -0.3,
                -0.3, 0.1, 1.0, 1.5, 1.0, 0.6]
hj_bishops = [14.2, 13.8, 13.1, 12.8, 12.4, 12.1, 11.8, 12.2, 11.1, 10.0,
              8.3, 7.4, 7.2, 4.7, 4.1, 3.4, 3.0, 3.2, 3.9, 4.1,
              4.3, 4.3, 4.1, 5.2, 5.2, 4.7, 3.4, 3.1, 2.1, 0.8,
              0.6, -0.3, -1.0, -1.0, -1.0, -1.0, -1.0, -1.0, -1.0, -1.0,
              -1.0, -1.0, -1.0, -0.2, 0.8, 0.0]
hj_dahlgren = [7.0, 7.0, 6.6, 7.0, 6.2, 6.8, 7.5, 7.3, 6.6, 6.4,
               4.4, 5.3, 5.7, -1.0, 4.4, 3.1, 0.9, 2.9, 4.0, 3.5,
               4.2, 4.0, 4.2, 4.6, 5.5, -1.0, 4.0, 3.5, 0.3, 2.2,
               1.8, 0.4, -0.5, -0.5, -0.5, -0.5, -0.5, -0.5, -0.5, -0.5,
               -0.5, -0.5, 0.9, 1.8, 1.5, 0.2]
hj_solomons = [7.2, 7.3, 7.5, 7.6, 7.8, 8.0, 7.8, 7.6, 7.4, 7.0,
               6.8, 6.5, 6.2, 6.0, 5.8, 5.5, 5.2, 5.0, 4.9, 5.0,
               5.1, 5.2, 5.3, 5.6, 5.7, 5.5, 5.0, 4.2, 3.5, 2.8,
               2.0, 1.5, 1.2, 0.5, -0.3, -0.5, -0.5, -0.5, -0.5, -0.5,
               -0.5, -0.5, -0.5, -0.5, -0.5, -0.5]
hj_washington = [7.6, 7.5, 7.3, 7.0, 6.8, 6.5, 6.2, 5.8, 5.4, 4.8,
                 4.0, 3.3, 2.8, 2.0, 1.3, 0.7, 0.3, 0.1, 0.0, 0.1,
                 0.3, 0.4, 0.5, 0.6, 0.7, 0.7, 0.6, 0.4, 0.2, -0.2,
                 -0.5, -0.5, -0.5, -0.5, -0.5, -0.5, -0.5, -0.5, -0.5, -0.5,
                 -0.5, -0.5, -0.5, -0.5, -0.5, -0.5]
hj_cambridge = [11.7, 11.3, 10.8, 10.5, 10.4, 10.3, 10.2, 10.0, 9.2, 8.3,
                7.7, 7.5, 7.0, 5.8, 5.0, 4.3, 4.0, 3.8, 3.8, 4.0,
                4.2, 4.3, 4.5, 4.7, 4.9, 4.8, 4.2, 3.7, 3.0, 2.0,
                1.2, 0.5, 0.0, -0.5, -0.5, -0.5, -0.5, -0.5, -0.5, -0.5,
                -0.5, -0.5, -0.5, -0.2, 0.2, 0.0]
hj_tolchester = [7.8, 7.5, 7.5, 7.6, 7.4, 7.5, 7.4, 7.0, 6.7, 6.3,
                 6.0, 5.6, 5.0, 4.5, 4.0, 3.6, 3.2, 3.0, 3.0, 3.3,
                 3.4, 3.5, 3.5, 3.6, 3.8, 3.8, 3.4, 2.6, 1.6, 1.0,
                 1.8, 0.3, -0.5, -0.5, -0.5, -0.5, -0.5, -0.5, -0.5, -0.5,
                 -0.5, -0.5, -0.5, 0.2, 0.5, 0.0]
hj_chesapeake = [8.2, 8.0, 8.0, 8.1, 8.3, 8.2, 7.6, 7.2, 6.8, 6.5,
                 6.0, 5.3, 4.4, 3.5, 2.7, 2.2, 1.8, 1.6, 1.6, 1.8,
                 2.0, 2.2, 2.4, 2.6, 2.7, 2.5, 2.0, 1.2, 0.5, 0.0,
                 -0.5, -0.5, -0.5, -0.5, -0.5, -0.5, -0.5, -0.5, -0.5, -0.5,
                 -0.5, -0.5, -0.5, 0.0, 0.5, 0.0]

obs_all = [obs_clearwater, obs_port_manatee, obs_old_port_tampa, obs_mayport, obs_dames,
           obs_fort_pulaski, obs_charleston, obs_swells, obs_kiptopeke, obs_yorktown,
           obs_lewisetta, obs_bishops, obs_dahlgren, obs_solomons, obs_washington,
           obs_cambridge, obs_tolchester, obs_chesapeake]
jz_all = [jz_clearwater, jz_port_manatee, jz_old_port_tampa, jz_mayport, jz_dames,
          jz_fort_pulaski, jz_charleston, jz_swells, jz_kiptopeke, jz_yorktown,
          jz_lewisetta, jz_bishops, jz_dahlgren, jz_solomons, jz_washington,
          jz_cambridge, jz_tolchester, jz_chesapeake]
hj_all = [hj_clearwater, hj_port_manatee, hj_old_port_tampa, hj_mayport, hj_dames,
          hj_fort_pulaski, hj_charleston, hj_swells, hj_kiptopeke, hj_yorktown,
          hj_lewisetta, hj_bishops, hj_dahlgren, hj_solomons, hj_washington,
          hj_cambridge, hj_tolchester, hj_chesapeake]

# ---------------- figure ----------------
fig, axes = plt.subplots(6, 3, figsize=(25, 20), dpi=100)
fig.subplots_adjust(left=0.0284, right=0.9956, top=0.9812, bottom=0.0217,
                    wspace=0.088, hspace=0.2456)

for k, ax in enumerate(axes.flat):
    obs = np.array(obs_all[k], dtype=float)
    jz = np.array(jz_all[k], dtype=float)
    hj = np.array(hj_all[k], dtype=float)
    ax.plot(obs_time, obs, '-', color='red', lw=4.5)
    ax.plot(obs_time, obs, 'o', color='red', ms=5, label='Obs')
    ax.plot(mod_time, jz, '--', color='green', lw=1.5, label='RUN08k_JZ')
    ax.plot(mod_time, hj, '--', color='blue', lw=1.5, label='RUN100b_HJ')

    ax.set_xlim(start, x_end)
    ax.set_ylim(0, 35)
    ax.set_yticks(y_ticks)
    ax.set_xticks(tick_dates)
    ax.set_xticklabels(tick_labels, fontsize=12)
    ax.tick_params(axis='y', labelsize=9)
    ax.set_title(f'station:{stations[k]}({station_ids[k]})', fontsize=12)

    line1 = f'depth={depths[k]:.2f}m {depth_ref[k]} NAVD, tz=GMT'
    line2 = f'Bias_RUN08k_JZ={bias_jz[k]:6.2f}, RMSE_RUN08k_JZ={rmse_jz[k]:6.2f}'
    line3 = f'Bias_RUN100b_HJ={bias_hj[k]:6.2f}, RMSE_RUN100b_HJ={rmse_hj[k]:6.2f}'
    for yy, txt in zip([0.90, 0.85, 0.80], [line1, line2, line3]):
        ax.text(0.05, yy, txt, transform=ax.transAxes, fontsize=12, fontweight='bold')

    if k % 3 == 0:
        ax.set_ylabel('Temperature ($^\\circ$C)', fontsize=12)
    if k == 0:
        ax.legend(loc='upper right', fontsize=10)

fig.savefig('out.png', dpi=100)
